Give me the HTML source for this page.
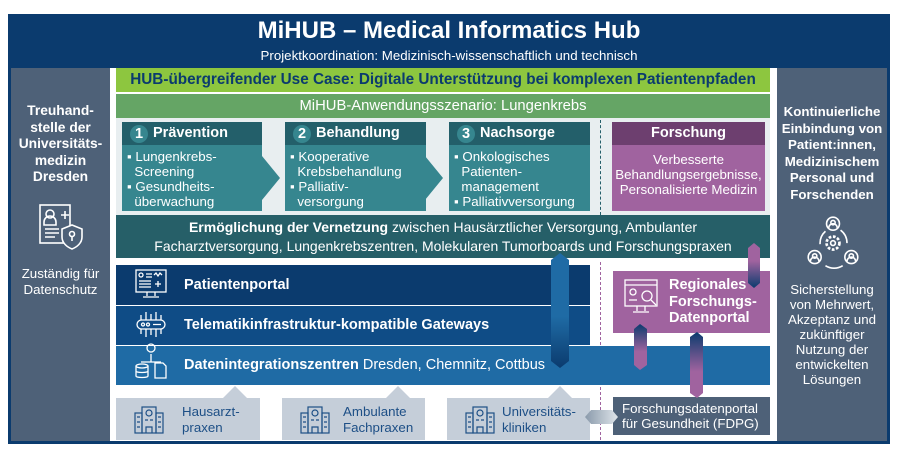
<!DOCTYPE html>
<html><head><meta charset="utf-8"><style>
*{margin:0;padding:0;box-sizing:border-box}
body{width:900px;height:453px;background:#fff;position:relative;overflow:hidden;font-family:"Liberation Sans",sans-serif;}
.a{position:absolute}
.c{text-align:center}
.w{color:#fff}
.hd{background:#235f6a;color:#fff;font-weight:bold;font-size:14.5px;line-height:23px;}
.bd{background:#36868f;color:#fff;font-size:13.3px;line-height:15px;padding:4px 0 0 5px;white-space:nowrap}
.num{display:inline-block;width:18px;height:18px;border-radius:50%;background:#36868f;text-align:center;line-height:18px;margin:0 5px 0 8px;vertical-align:-1px}
.band{color:#fff;font-size:14.5px;line-height:40px;padding-left:68px}
.gb{background:#c5ced9;color:#1d4f86;font-size:13.3px;line-height:15.5px}
</style></head><body>
<div class="a" style="left:8px;top:14px;width:882px;height:430px;background:#0b3b6e"></div>
<div class="a c w" style="left:8px;top:17px;width:882px;font-size:24px;font-weight:bold">MiHUB – Medical Informatics Hub</div>
<div class="a c w" style="left:8px;top:48px;width:882px;font-size:13.3px">Projektkoordination: Medizinisch-wissenschaftlich und technisch</div>
<div class="a" style="left:11px;top:68px;width:99px;height:373px;background:#4e6178"></div>
<div class="a c w" style="left:11px;top:103px;width:99px;font-size:13.8px;font-weight:bold;line-height:16.5px">Treuhand-<br>stelle der<br>Universitäts-<br>medizin<br>Dresden</div>
<svg class="a" style="left:38px;top:203px" width="48" height="48" viewBox="0 0 48 48" fill="none" stroke="#fff" stroke-width="1.6">
<rect x="2" y="2" width="30" height="38"/><circle cx="12" cy="11" r="4"/><path d="M6 22v-3a6 6 0 0 1 12 0v3z"/><path d="M7 26h14M7 30h14M7 34h10"/><path d="M23 12h8M27 8v8"/><path d="M24 26l10-4 10 4v8c0 6-5 10-10 12-5-2-10-6-10-12z" fill="#4e6178"/><circle cx="34" cy="31" r="2.5"/><path d="M34 33v5"/></svg>
<div class="a c w" style="left:11px;top:266px;width:99px;font-size:13.3px;line-height:16px">Zuständig für<br>Datenschutz</div>
<div class="a" style="left:777px;top:68px;width:110px;height:373px;background:#4e6178"></div>
<div class="a c w" style="left:777px;top:104px;width:110px;font-size:13.3px;font-weight:bold;line-height:16.5px;white-space:nowrap">Kontinuierliche<br>Einbindung von<br>Patient:innen,<br>Medizinischem<br>Personal und<br>Forschenden</div>
<svg class="a" style="left:805px;top:214px" width="56" height="56" viewBox="0 0 52 52" fill="none" stroke="#fff" stroke-width="1.5">
<circle cx="26" cy="9" r="6"/><circle cx="26" cy="8" r="2"/><path d="M22 13a4 4 0 0 1 8 0"/><circle cx="9" cy="40" r="6"/><circle cx="9" cy="39" r="2"/><path d="M5 44a4 4 0 0 1 8 0"/><circle cx="43" cy="40" r="6"/><circle cx="43" cy="39" r="2"/><path d="M39 44a4 4 0 0 1 8 0"/><circle cx="26" cy="27" r="6" stroke-dasharray="2.5 1.5" stroke-width="2.5"/><circle cx="26" cy="27" r="2.2"/><path d="M14 28a15 15 0 0 1 5-12M33 15a15 15 0 0 1 6 12M35 48a15 15 0 0 1-16 0"/></svg>
<div class="a c w" style="left:777px;top:282px;width:110px;font-size:13.3px;line-height:15px">Sicherstellung<br>von Mehrwert,<br>Akzeptanz und<br>zukünftiger<br>Nutzung der<br>entwickelten<br>Lösungen</div>
<div class="a" style="left:110px;top:68px;width:667px;height:373px;background:#fff"></div>
<div class="a c" style="left:116px;top:68px;width:654px;height:24px;background:#8dc63f;color:#0b3b6e;font-weight:bold;font-size:15.3px;line-height:24px;white-space:nowrap">HUB-übergreifender Use Case: Digitale Unterstützung bei komplexen Patientenpfaden</div>
<div class="a c w" style="left:116px;top:94px;width:654px;height:24px;background:#65a565;font-size:14.8px;line-height:24px">MiHUB-Anwendungsszenario: Lungenkrebs</div>
<div class="a" style="left:116px;top:118px;width:654px;height:97px;background:#e8eef0"></div>
<svg class="a" style="left:120px;top:144px" width="480" height="68"><g fill="#36868f"><path d="M142 12l18 22-18 22z"/><path d="M305 12l18 22-18 22z"/></g></svg>
<div class="a hd" style="left:122px;top:122px;width:140px"><span class="num">1</span>Prävention</div>
<div class="a bd" style="left:122px;top:145px;width:140px;height:66px">▪ Lungenkrebs-<br>&nbsp;&nbsp;Screening<br>▪ Gesundheits-<br>&nbsp;&nbsp;überwachung</div>
<div class="a hd" style="left:285px;top:122px;width:141px"><span class="num">2</span>Behandlung</div>
<div class="a bd" style="left:285px;top:145px;width:141px;height:66px">▪ Kooperative<br>&nbsp;&nbsp;Krebsbehandlung<br>▪ Palliativ-<br>&nbsp;&nbsp;versorgung</div>
<div class="a hd" style="left:449px;top:122px;width:141px"><span class="num">3</span>Nachsorge</div>
<div class="a bd" style="left:449px;top:145px;width:141px;height:66px">▪ Onkologisches<br>&nbsp;&nbsp;Patienten-<br>&nbsp;&nbsp;management<br>▪ Palliativversorgung</div>
<div class="a c hd" style="left:612px;top:122px;width:153px;background:#6d3f6f">Forschung</div>
<div class="a c" style="left:612px;top:145px;width:153px;height:66px;background:#a0639f;color:#fff;font-size:13.3px;line-height:15px;padding-top:7px;white-space:nowrap">Verbesserte<br>Behandlungsergebnisse,<br>Personalisierte Medizin</div>
<div class="a" style="left:600px;top:120px;height:95px;border-left:1.5px dashed #235f6a"></div>
<div class="a c w" style="left:116px;top:215px;width:654px;height:43px;background:#265f68;font-size:14px;line-height:19px;padding-top:3px;white-space:nowrap"><b>Ermöglichung der Vernetzung</b> zwischen Hausärztlicher Versorgung, Ambulanter<br>Facharztversorgung, Lungenkrebszentren, Molekularen Tumorboards und Forschungspraxen</div>
<div class="a" style="left:600px;top:262px;height:178px;border-left:1.5px dashed #a0639f"></div>
<div class="a band" style="left:116px;top:265px;width:474px;height:40px;background:#0b3b6e"><b>Patientenportal</b></div>
<div class="a band" style="left:116px;top:306px;width:474px;height:39px;background:#0f4c86;line-height:39px"><b>Telematikinfrastruktur-kompatible Gateways</b></div>
<div class="a band" style="left:116px;top:346px;width:654px;height:39px;background:#1f6ba5;line-height:39px"><b>Datenintegrationszentren</b> Dresden, Chemnitz, Cottbus</div>
<svg class="a" style="left:133px;top:268px" width="36" height="114" viewBox="0 0 36 114" fill="none" stroke="#fff" stroke-width="1.3">
<rect x="3" y="2" width="30" height="22"/><path d="M14 24v4M22 24v4M10 29h16"/><circle cx="8" cy="7" r="2"/><path d="M13 6h6M13 9h6M6 13h12M6 16h12M6 19h12M21 7l2-2 2 3 2-3 2 2M25 13v6M22 16h6"/>
<rect x="4" y="52" width="28" height="9" rx="4.5"/><circle cx="10" cy="56.5" r="1.5"/><circle cx="15" cy="56.5" r="1.5"/><path d="M20 56.5h8M8 52v-5M13 52v-8M18 52v-6M23 52v-8M28 52v-5M8 61v5M13 61v8M18 61v6M23 61v8M28 61v5"/>
<circle cx="18" cy="80" r="4"/><path d="M18 86v8M8 94h20"/><ellipse cx="9" cy="98" rx="6" ry="2"/><path d="M3 98v10c0 2 12 2 12 0V98M3 103c0 2 12 2 12 0"/><path d="M22 95h8l3 3v12H22z"/></svg>
<div class="a" style="left:613px;top:271px;width:157px;height:62px;background:#a0639f"></div>
<svg class="a" style="left:623px;top:278px" width="40" height="42" viewBox="0 0 40 42" fill="none" stroke="#fff" stroke-width="1.3"><rect x="2" y="2" width="32" height="26"/><path d="M2 7h32M14 28v5M22 28v5M10 34h16"/><circle cx="10" cy="14" r="3"/><circle cx="24" cy="18" r="5"/><path d="M28 22l5 5M6 22h8"/></svg>
<div class="a w" style="left:669px;top:277px;font-size:14.5px;font-weight:bold;line-height:16.5px;white-space:nowrap">Regionales<br>Forschungs-<br>Datenportal</div>
<div class="a gb" style="left:116px;top:398px;width:144px;height:42px"></div>
<div class="a gb" style="left:282px;top:398px;width:143px;height:42px"></div>
<div class="a gb" style="left:447px;top:398px;width:143px;height:42px"></div>
<svg class="a" style="left:110px;top:384px" width="500" height="16"><g fill="#c5ced9"><path d="M113 14l12-12 12 12z"/><path d="M276 14l12-12 12 12z"/><path d="M438 14l12-12 12 12z"/></g></svg>
<svg class="a" style="left:134px;top:403px" width="400" height="32" viewBox="0 0 400 32" fill="none" stroke="#1d4f86" stroke-width="1.2"><g id="h"><rect x="8" y="4" width="14" height="26"/><rect x="1" y="10" width="7" height="20"/><rect x="22" y="10" width="7" height="20"/><circle cx="15" cy="10" r="3"/><path d="M12 30v-6h6v6M3 14h3M3 19h3M3 24h3M24 14h3M24 19h3M24 24h3M11 17h3M16 17h3"/></g><use href="#h" x="166"/><use href="#h" x="331"/></svg>
<div class="a gb" style="left:182px;top:404px;background:none">Hausarzt-<br>praxen</div>
<div class="a gb" style="left:343px;top:404px;background:none">Ambulante<br>Fachpraxen</div>
<div class="a gb" style="left:502px;top:404px;background:none">Universitäts-<br>kliniken</div>
<div class="a w" style="left:613px;top:397px;width:157px;height:38px;background:#4e6178;font-size:13.3px;line-height:15px;padding:4px 0 0 9px;white-space:nowrap">Forschungsdatenportal<br>für Gesundheit (FDPG)</div>
<svg class="a" style="left:0;top:0" width="900" height="453">
<defs>
<linearGradient id="bl" x1="0" y1="0" x2="0" y2="1"><stop offset="0" stop-color="#1f6ba5"/><stop offset=".55" stop-color="#1f6ba5"/><stop offset="1" stop-color="#0b3b6e"/></linearGradient>
<linearGradient id="pu" x1="0" y1="0" x2="0" y2="1"><stop offset="0" stop-color="#a0639f"/><stop offset=".4" stop-color="#a0639f"/><stop offset="1" stop-color="#0b3b6e"/></linearGradient>
<linearGradient id="pd" x1="0" y1="0" x2="0" y2="1"><stop offset="0" stop-color="#0b3b6e"/><stop offset=".6" stop-color="#a0639f"/><stop offset="1" stop-color="#a0639f"/></linearGradient>
<linearGradient id="gr" x1="0" y1="0" x2="1" y2="0"><stop offset="0" stop-color="#8a9aab"/><stop offset="1" stop-color="#dfe5ea"/></linearGradient>
</defs>
<path d="M551 260l9-7 9 7v101l-9 7-9-7z" fill="url(#bl)"/>
<path d="M748 248l6-5 6 5v35l-6 5-6-5z" fill="url(#pu)"/>
<path d="M634 329l6-5 7 5v36l-7 5-6-5z" fill="url(#pd)"/>
<path d="M690 337l7-5 6 5v56l-6 5-7-5z" fill="url(#pd)"/>
<path d="M585 417l6-7h21l6 7-6 7h-21z" fill="url(#gr)"/>
</svg>
</body></html>
